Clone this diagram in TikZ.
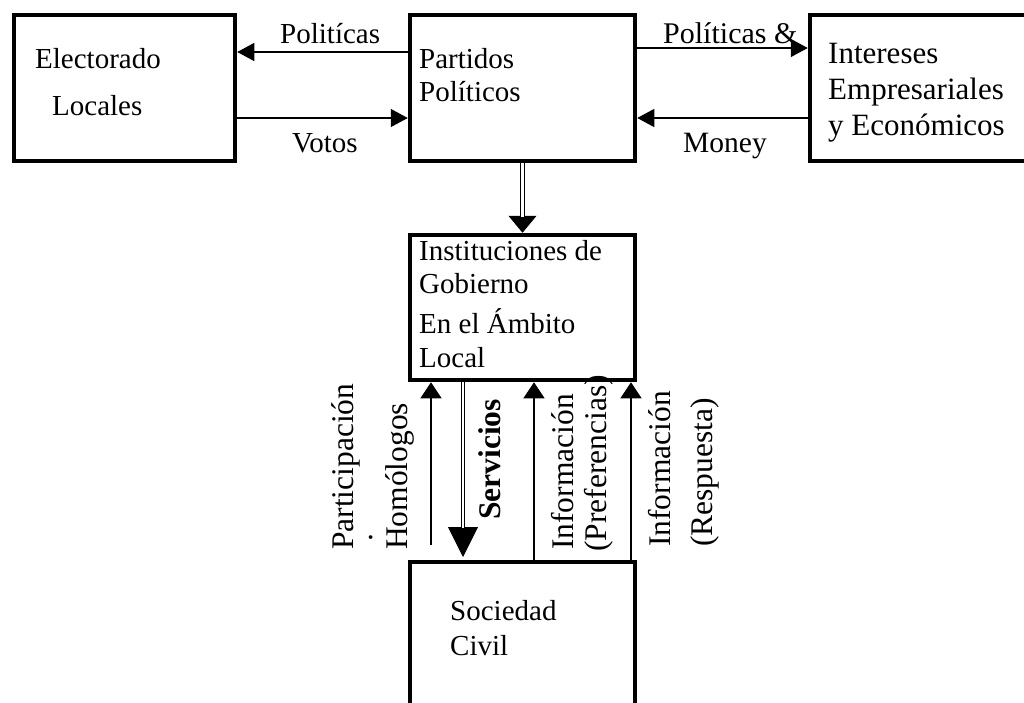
\documentclass[tikz,border=0pt]{standalone}
\usepackage{fontspec}
\setmainfont{Liberation Serif}
\usepackage{graphicx}
\usetikzlibrary{arrows.meta}
\begin{document}
\begin{tikzpicture}[x=1pt,y=-1pt,
  box/.style={draw, rectangle, line width=4.5pt, inner sep=0pt, fill=white},
  txt/.style={anchor=base west, inner sep=0pt, font=\fontsize{#1}{#1}\selectfont},
  txt/.default=29,
  rot/.style={anchor=base west, inner sep=0pt, rotate=90, font=\fontsize{31.5}{31.5}\selectfont},
  arr/.style={line width=1.3pt, -{Triangle[length=17pt,width=18pt]}},
  uparr/.style={line width=1.3pt, -{Triangle[length=16pt,width=21pt]}},
  dbl/.style={double, line width=0.9pt, double distance=2.4pt}
]
\useasboundingbox (0,0) rectangle (1024,702);
\clip (0,0) rectangle (1024,702);

% boxes
\node[box, minimum width=221pt, minimum height=146pt] (elec) at (124.5,88) {};
\node[box, minimum width=225pt, minimum height=146pt] (part) at (522.5,88) {};
\node[box, minimum width=220pt, minimum height=146pt] (inte) at (920,88) {};
\node[box, minimum width=225pt, minimum height=145pt] (inst) at (522.5,307.5) {};
\node[box, minimum width=225pt, minimum height=160pt] (soc) at (522.5,642) {};

% box texts
\node[txt] (t1) at (35,68) {Electorado};
\node[txt] (t2) at (52,115) {Locales};
\node[txt] (t3) at (419,68) {Partidos};
\node[txt] (t4) at (419,101) {Políticos};
\node[txt=31] (t5) at (828,63) {Intereses};
\node[txt=31] (t6) at (828,99) {Empresariales};
\node[txt=31] (t7) at (828,135) {y Económicos};
\node[txt] (t8) at (419,260) {Instituciones de};
\node[txt] (t9) at (419,293) {Gobierno};
\node[txt] (t10) at (419,333) {En el Ámbito};
\node[txt] (t11) at (419,367) {Local};
\node[txt] (t12) at (450,620) {Sociedad};
\node[txt] (t13) at (450,655) {Civil};

% horizontal connectors
\draw[arr] (part.west |- 0,52) -- (elec.east |- 0,52);
\draw[arr] (elec.east |- 0,118) -- (part.west |- 0,118);
\draw[arr] (part.east |- 0,48) -- (inte.west |- 0,48);
\draw[arr] (inte.west |- 0,118) -- (part.east |- 0,118);

\node[txt] (l1) at (280,43) {Politícas};
\node[txt] (l2) at (292,152) {Votos};
\node[txt=30] (l3) at (663,43) {Políticas \&};
\node[txt=29.5] (l4) at (683,152) {Money};

% partidos -> instituciones (double)
\draw[line width=0.9pt, -{Triangle[length=17pt,width=28pt]}] (part.south) -- (inst.north);
\draw[dbl, shorten >=16pt] (part.south) -- (inst.north);

% vertical connectors
\coordinate (pfree) at (431,545);
\draw[uparr] (pfree) -- (inst.south -| pfree);
\draw[line width=0.9pt, -{Triangle[length=30pt,width=30pt]}] (inst.south -| 463,0) -- (463,557) coordinate (sv);
\draw[dbl, shorten >=29pt] (inst.south -| 463,0) -- (sv);
\draw[uparr] (soc.north -| 534,0) -- (inst.south -| 534,0);
\draw[uparr] (soc.north -| 631,0) -- (inst.south -| 631,0);

% rotated labels
\node[rot] (r1) at (353,550) {Participación};
\node[rot] (r0) at (372,542) {.};
\node[rot] (r2) at (407,550) {Homólogos};
\node[rot, font=\fontsize{31.5}{31.5}\selectfont\bfseries] (r3) at (500,520) {Servicios};
\node[rot] (r4) at (573,550) {Información};
\node[rot] (r5) at (606,552) {(Preferencias)};
\node[rot] (r6) at (670,547) {Información};
\node[rot] (r7) at (712,547) {(Respuesta)};
\end{tikzpicture}
\end{document}
